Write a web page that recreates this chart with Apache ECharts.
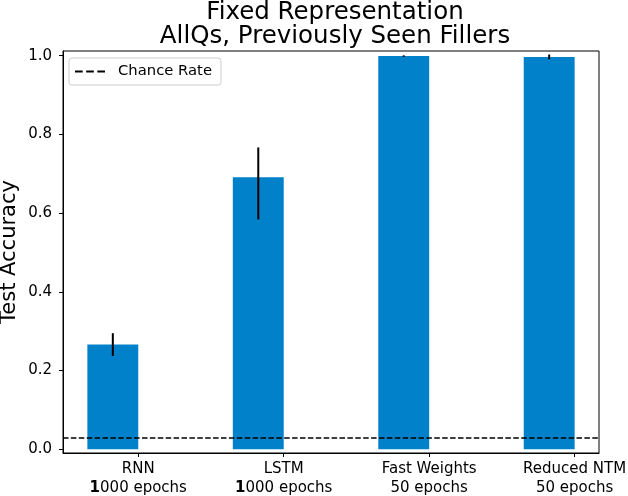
<!DOCTYPE html>
<html>
<head>
<meta charset="utf-8">
<script src="https://cdn.jsdelivr.net/npm/echarts@6/dist/echarts.min.js"></script>
<style>
  html, body { margin: 0; padding: 0; background: #fff; }
  #chart { width: 628px; height: 496px; }
</style>
</head>
<body>
<div id="chart"></div>
<script>
// values
var models = ['RNN', 'LSTM', 'Fast Weights', 'Reduced NTM'];
var epochCount = ['1000', '1000', '50', '50'];
var accuracy = [0.266, 0.691, 0.999, 0.997];
var errLow = [0.237, 0.584, 0.997, 0.991];
var errHigh = [0.295, 0.767, 1.001, 1.003];
var chanceRate = 0.025;
var yTicks = [0, 0.2, 0.4, 0.6, 0.8, 1.0];
var xTicks = [0, 1, 2, 3];

var barWidth = 0.35;
var font = 'DejaVu Sans';

var chart = echarts.init(document.getElementById('chart'));

var barData = [];
var errData = [];
for (var i = 0; i < models.length; i++) {
    barData.push([xTicks[i], accuracy[i]]);
    errData.push([xTicks[i], errLow[i], errHigh[i]]);
}

var option = {
    animation: false,
    title: {
        text: 'Fixed Representation\nAllQs, Previously Seen Fillers',
        left: 330,
        textAlign: 'center',
        top: -4,
        textStyle: {
            fontFamily: font,
            fontSize: 24.5,
            fontWeight: 'normal',
            color: '#000',
            lineHeight: 24
        }
    },
    legend: {
        left: 69,
        top: 58,
        orient: 'vertical',
        padding: [6, 9, 6, 6],
        itemWidth: 30,
        itemHeight: 12,
        backgroundColor: '#fff',
        borderColor: '#cccccc',
        borderWidth: 1,
        borderRadius: 3,
        textStyle: { fontFamily: font, fontSize: 14.8, color: '#000', padding: [0, 0, 0, 8] },
        data: [{ name: 'Chance Rate', icon: 'path://M0,5 L5.5,5 L5.5,6.5 L0,6.5 Z M8,5 L13.5,5 L13.5,6.5 L8,6.5 Z M16,5 L21.5,5 L21.5,6.5 L16,6.5 Z', itemStyle: { color: '#000' } }]
    },
    grid: {
        left: 63,
        right: 29,
        top: 51,
        bottom: 43,
        outerBoundsMode: 'none',
        containLabel: false,
        show: true,
        borderColor: '#000',
        borderWidth: 1
    },
    xAxis: {
        type: 'value',
        min: -0.5175,
        max: 3.1675,
        splitLine: { show: false },
        axisLine: { show: true, onZero: false, lineStyle: { color: '#000', width: 1 } },
        axisTick: { show: true, customValues: xTicks, length: 4, lineStyle: { color: '#000' } },
        axisLabel: {
            customValues: xTicks,
            margin: 7,
            formatter: function (v) {
                var i = Math.round(v);
                var n = epochCount[i];
                if (n.charAt(0) === '1') {
                    return models[i] + '\n{b|1}{n|' + n.slice(1) + ' epochs}';
                }
                return models[i] + '\n{n|' + n + ' epochs}';
            },
            fontFamily: font,
            fontSize: 15,
            color: '#000',
            lineHeight: 18.5,
            rich: {
                b: { fontFamily: font, fontSize: 15, fontWeight: 'bold', color: '#000', lineHeight: 18.5 },
                n: { fontFamily: font, fontSize: 15, color: '#000', lineHeight: 18.5 }
            }
        }
    },
    yAxis: {
        type: 'value',
        min: -0.0094,
        max: 1.012,
        name: 'Test Accuracy',
        nameLocation: 'middle',
        nameGap: 43,
        nameMoveOverlap: false,
        nameTextStyle: { fontFamily: font, fontSize: 21, color: '#000' },
        splitLine: { show: false },
        axisLine: { show: true, onZero: false, lineStyle: { color: '#000', width: 1 } },
        axisTick: { show: true, customValues: yTicks, length: 4, lineStyle: { color: '#000' } },
        axisLabel: {
            customValues: yTicks,
            margin: 11,
            fontFamily: font,
            fontSize: 15,
            color: '#000',
            formatter: function (v) { return v.toFixed(1); }
        }
    },
    series: [
        {
            name: 'Accuracy',
            type: 'custom',
            silent: true,
            data: barData,
            renderItem: function (params, api) {
                var x = api.value(0);
                var p1 = api.coord([x - barWidth, api.value(1)]);
                var p0 = api.coord([x, 0]);
                return {
                    type: 'rect',
                    shape: { x: p1[0], y: p1[1], width: p0[0] - p1[0], height: p0[1] - p1[1] },
                    style: { fill: '#0081c9' }
                };
            },
            z: 2
        },
        {
            name: 'Chance Rate',
            type: 'line',
            data: [],
            symbol: 'none',
            lineStyle: { color: '#000', width: 1.5, type: [5.5, 2.4] },
            itemStyle: { color: '#000' },
            markLine: {
                silent: true,
                symbol: 'none',
                label: { show: false },
                lineStyle: { color: '#000', width: 1.5, type: [5.5, 2.4] },
                data: [{ yAxis: chanceRate }]
            },
            z: 3
        },
        {
            name: 'Error',
            type: 'custom',
            silent: true,
            data: errData,
            renderItem: function (params, api) {
                var x = api.value(0) - barWidth / 2;
                var lo = api.coord([x, api.value(1)]);
                var hi = api.coord([x, api.value(2)]);
                return {
                    type: 'line',
                    shape: { x1: lo[0], y1: lo[1], x2: hi[0], y2: hi[1] },
                    style: { stroke: '#000', lineWidth: 2 }
                };
            },
            z: 4
        }
    ]
};

chart.setOption(option);
</script>
</body>
</html>
